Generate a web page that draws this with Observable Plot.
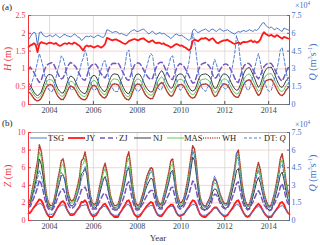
<!DOCTYPE html>
<html><head><meta charset="utf-8">
<script src="https://cdn.jsdelivr.net/npm/d3@7"></script>
<script src="https://cdn.jsdelivr.net/npm/@observablehq/plot@0.6"></script>
<style>
body{margin:0;background:#fff;}
#wrap{position:relative;width:320px;height:245px;overflow:hidden;background:#fff;}
#wrap svg{position:absolute;left:0;}
</style></head><body><div id="wrap"></div>
<script>
// ---------- categories / ticks ----------
const startYear = 2003, nMonths = 144;
const xTickYears = [2004, 2006, 2008, 2010, 2012, 2014];
const hTicks = [0, 0.5, 1, 1.5, 2, 2.5];
const hTickLabels = ["0", "0.5", "1", "1.5", "2", "2.5"];
const zTicks = [0, 2, 4, 6, 8, 10];
const zTickLabels = ["0", "2", "4", "6", "8", "10"];
const qTickLabels = ["0", "1.5", "3", "4.5", "6", "7.5"];
const seriesNames = ["TSG", "JY", "ZJ", "NJ", "MAS", "WH", "DT: Q"];

// ---------- Datong discharge Q (x10^4 m3/s), monthly 2003-2014 ----------
const Q = [
1.2,1.3,1.9,2.4,2.9,3.6,4.3,3.8,3.2,2.4,1.8,1.3,
1.1,1.1,1.5,2.2,2.9,3.4,4.1,3.9,3.3,2.5,1.9,1.3,
1.2,1.4,1.8,2.4,2.8,3.5,3.9,4.6,4.1,2.9,2.0,1.3,
1.2,1.3,1.8,2.6,3.0,3.6,3.7,3.0,2.2,1.7,1.4,1.1,
1.1,1.1,1.6,2.1,2.6,3.4,4.4,4.6,3.5,2.4,1.7,1.2,
1.1,1.2,1.7,2.2,2.8,3.3,3.9,4.3,4.1,3.0,2.2,1.4,
1.2,1.3,1.8,2.3,2.9,3.4,4.0,4.1,3.2,2.2,1.6,1.2,
1.3,1.6,2.3,2.9,3.6,4.8,6.0,5.4,4.1,2.9,1.9,1.4,
1.2,1.1,1.4,1.6,1.9,3.2,3.8,3.4,2.8,2.2,1.8,1.4,
1.3,1.4,2.0,2.6,3.4,4.3,5.8,5.2,3.8,2.7,2.0,1.5,
1.2,1.3,1.8,2.4,3.1,3.8,4.3,3.6,2.7,2.0,1.6,1.2,
1.1,1.2,1.7,2.3,2.9,3.6,4.6,4.8,3.9,2.9,2.1,1.5];

// ---------- panel (a): tidal range H (m) ----------
const H_TSG = [
1.82,1.90,1.98,2.03,2.00,1.66,2.02,2.04,1.95,1.92,1.90,1.93,
1.95,1.90,1.93,1.97,1.92,1.88,1.90,1.95,1.97,1.93,1.92,1.90,
1.93,1.98,1.95,1.90,1.88,1.80,1.83,1.90,1.92,1.90,1.93,1.90,
1.88,1.92,1.95,1.93,1.90,1.88,1.95,2.10,2.08,2.05,2.02,2.04,
2.05,2.02,1.98,2.00,1.97,1.95,1.93,2.00,2.05,2.08,2.10,2.06,
2.05,2.08,2.10,2.12,2.08,2.02,1.98,2.03,2.06,2.00,1.97,2.00,
2.02,1.98,2.00,1.97,1.93,1.90,1.85,1.90,1.95,1.98,1.95,1.93,
1.95,1.90,1.87,1.83,1.80,1.85,2.08,2.12,2.05,2.02,2.05,2.08,
2.10,2.12,2.08,2.05,2.10,2.12,2.08,2.05,2.10,2.13,2.08,2.06,
2.08,2.10,2.06,2.03,2.00,1.98,2.02,2.05,2.03,2.06,2.08,2.05,
2.07,2.10,2.08,2.05,2.10,2.08,2.12,2.20,2.28,2.30,2.22,2.18,
2.15,2.18,2.13,2.10,2.15,2.12,2.08,2.05,2.15,2.12,2.10,2.08];
const H_JY = [
1.61,1.66,1.68,1.72,1.68,1.47,1.70,1.75,1.73,1.72,1.70,1.73,
1.74,1.72,1.70,1.73,1.68,1.65,1.66,1.70,1.72,1.70,1.73,1.71,
1.70,1.74,1.72,1.68,1.65,1.58,1.52,1.62,1.66,1.63,1.65,1.62,
1.60,1.63,1.65,1.62,1.60,1.64,1.70,1.87,1.85,1.82,1.80,1.82,
1.83,1.80,1.78,1.75,1.72,1.70,1.73,1.78,1.80,1.82,1.84,1.82,
1.80,1.83,1.85,1.86,1.82,1.78,1.75,1.78,1.80,1.75,1.72,1.74,
1.73,1.70,1.72,1.68,1.66,1.64,1.60,1.63,1.67,1.70,1.68,1.65,
1.66,1.62,1.60,1.56,1.52,1.58,1.78,1.82,1.80,1.78,1.83,1.86,
1.85,1.87,1.84,1.80,1.84,1.86,1.80,1.74,1.72,1.76,1.78,1.80,
1.80,1.82,1.78,1.76,1.72,1.70,1.72,1.75,1.70,1.74,1.76,1.75,
1.76,1.78,1.80,1.75,1.78,1.74,1.76,1.82,1.95,2.03,1.98,1.95,
1.93,1.96,1.92,1.90,1.95,1.92,1.88,1.85,1.90,1.88,1.86,1.85];
const H_ZJ = [
1.00,1.05,0.98,0.90,0.80,0.70,0.62,0.68,0.85,1.00,1.10,1.14,
1.16,1.18,1.12,1.00,0.88,0.78,0.72,0.75,0.88,1.02,1.12,1.18,
1.15,1.10,1.05,0.95,0.85,0.75,0.70,0.68,0.80,0.98,1.07,1.12,
1.15,1.12,1.05,0.92,0.85,0.78,0.75,0.85,1.00,1.10,1.15,1.16,
1.15,1.17,1.10,0.98,0.88,0.78,0.70,0.68,0.82,0.98,1.10,1.15,
1.17,1.15,1.08,0.98,0.88,0.80,0.74,0.70,0.74,0.90,1.05,1.14,
1.18,1.19,1.12,1.00,0.90,0.80,0.72,0.70,0.85,1.00,1.10,1.15,
1.12,1.08,1.00,0.90,0.80,0.68,0.60,0.62,0.78,0.95,1.08,1.14,
1.16,1.18,1.14,1.08,1.00,0.82,0.74,0.76,0.86,0.98,1.06,1.12,
1.14,1.12,1.06,0.96,0.86,0.74,0.64,0.62,0.78,0.95,1.08,1.14,
1.16,1.14,1.08,0.98,0.88,0.78,0.72,0.80,0.95,1.06,1.12,1.15,
1.16,1.15,1.08,0.98,0.88,0.78,0.70,0.66,0.76,0.90,1.02,1.08];
const H_NJ = [
0.60,0.55,0.45,0.35,0.28,0.25,0.28,0.35,0.50,0.65,0.78,0.84,
0.84,0.82,0.72,0.58,0.45,0.38,0.33,0.32,0.42,0.58,0.72,0.80,
0.78,0.72,0.62,0.50,0.42,0.35,0.32,0.30,0.38,0.55,0.70,0.80,
0.82,0.78,0.68,0.52,0.45,0.38,0.36,0.45,0.62,0.76,0.84,0.86,
0.85,0.84,0.74,0.60,0.48,0.38,0.32,0.30,0.40,0.58,0.74,0.84,
0.86,0.84,0.76,0.64,0.52,0.44,0.38,0.35,0.36,0.50,0.68,0.80,
0.90,0.95,0.88,0.75,0.62,0.52,0.45,0.48,0.62,0.76,0.84,0.86,
0.85,0.80,0.70,0.58,0.48,0.40,0.38,0.40,0.52,0.68,0.80,0.84,
0.85,0.86,0.84,0.80,0.72,0.55,0.45,0.46,0.58,0.72,0.82,0.86,
0.85,0.82,0.74,0.62,0.52,0.44,0.40,0.42,0.55,0.72,0.88,0.98,
1.02,1.04,0.96,0.84,0.72,0.58,0.48,0.55,0.72,0.88,0.98,1.03,
1.04,1.05,0.96,0.84,0.70,0.58,0.50,0.48,0.55,0.66,0.72,0.78];
const H_MAS = [
0.48,0.44,0.36,0.27,0.21,0.18,0.20,0.27,0.40,0.53,0.64,0.70,
0.70,0.68,0.59,0.46,0.35,0.28,0.24,0.23,0.32,0.46,0.59,0.66,
0.64,0.59,0.50,0.39,0.32,0.26,0.23,0.22,0.29,0.44,0.57,0.66,
0.68,0.64,0.55,0.41,0.35,0.29,0.27,0.35,0.50,0.62,0.70,0.72,
0.71,0.70,0.61,0.48,0.37,0.28,0.23,0.22,0.31,0.46,0.61,0.70,
0.72,0.70,0.62,0.51,0.40,0.33,0.28,0.26,0.27,0.39,0.55,0.66,
0.74,0.78,0.72,0.60,0.49,0.40,0.34,0.36,0.49,0.62,0.69,0.71,
0.70,0.66,0.57,0.46,0.37,0.30,0.28,0.30,0.40,0.55,0.66,0.70,
0.71,0.72,0.70,0.66,0.58,0.43,0.34,0.35,0.46,0.58,0.68,0.72,
0.71,0.68,0.60,0.49,0.40,0.33,0.30,0.31,0.43,0.58,0.72,0.80,
0.84,0.86,0.79,0.68,0.57,0.45,0.36,0.42,0.58,0.72,0.81,0.85,
0.86,0.87,0.79,0.68,0.56,0.45,0.38,0.36,0.42,0.52,0.58,0.64];
const H_WH = [
0.35,0.32,0.25,0.17,0.12,0.10,0.12,0.18,0.28,0.40,0.50,0.55,
0.56,0.54,0.46,0.34,0.24,0.18,0.14,0.14,0.22,0.34,0.46,0.52,
0.50,0.46,0.38,0.28,0.21,0.16,0.14,0.13,0.19,0.32,0.44,0.52,
0.54,0.50,0.42,0.30,0.24,0.19,0.18,0.25,0.38,0.48,0.56,0.58,
0.57,0.56,0.48,0.36,0.26,0.18,0.14,0.13,0.20,0.34,0.48,0.56,
0.58,0.56,0.49,0.38,0.28,0.22,0.18,0.16,0.17,0.28,0.42,0.52,
0.58,0.62,0.57,0.46,0.36,0.28,0.23,0.25,0.36,0.48,0.54,0.56,
0.56,0.52,0.44,0.34,0.26,0.20,0.18,0.20,0.29,0.42,0.52,0.56,
0.57,0.58,0.56,0.52,0.45,0.31,0.23,0.24,0.34,0.45,0.54,0.58,
0.57,0.54,0.47,0.37,0.29,0.23,0.20,0.21,0.31,0.45,0.58,0.65,
0.68,0.70,0.64,0.54,0.44,0.33,0.25,0.30,0.45,0.58,0.66,0.69,
0.70,0.71,0.64,0.54,0.43,0.33,0.27,0.25,0.30,0.40,0.46,0.50];

// ---------- panel (b): water level Z (m) ----------
const Z_TSG = [
0.9,1.0,1.2,1.4,1.6,1.8,1.9,1.9,1.6,1.2,0.9,0.7,
0.7,0.7,0.9,1.1,1.4,1.6,1.7,1.8,1.6,1.2,0.9,0.8,
0.8,0.8,1.0,1.2,1.4,1.7,1.7,1.8,1.7,1.2,0.9,0.7,
0.7,0.8,1.0,1.2,1.4,1.6,1.6,1.4,1.1,0.9,0.7,0.6,
0.6,0.6,0.9,1.1,1.3,1.6,1.8,1.8,1.5,1.1,0.8,0.6,
0.6,0.7,0.9,1.1,1.3,1.5,1.6,1.7,1.7,1.3,0.9,0.7,
0.6,0.7,0.9,1.1,1.3,1.5,1.6,1.6,1.3,0.9,0.7,0.6,
0.7,0.8,1.0,1.2,1.4,1.7,1.8,1.8,1.6,1.1,0.8,0.6,
0.6,0.6,0.7,0.9,1.0,1.3,1.4,1.4,1.2,0.9,0.7,0.6,
0.6,0.7,0.9,1.1,1.3,1.6,1.8,1.8,1.5,1.1,0.8,0.6,
0.5,0.6,0.8,1.0,1.3,1.5,1.6,1.5,1.2,0.9,0.7,0.5,
0.5,0.5,0.7,1.0,1.2,1.4,1.6,1.7,1.5,1.2,0.9,0.7];
const Z_JY = [
0.8,0.9,1.2,1.5,1.8,2.1,2.4,2.3,1.9,1.3,0.8,0.5,
0.4,0.4,0.7,1.1,1.5,1.8,2.1,2.2,1.9,1.3,0.9,0.6,
0.6,0.7,1.0,1.3,1.6,2.1,2.1,2.3,2.0,1.3,0.8,0.5,
0.5,0.6,0.9,1.3,1.5,1.8,1.9,1.6,1.2,0.8,0.6,0.4,
0.4,0.4,0.8,1.1,1.5,1.8,2.2,2.3,1.8,1.2,0.7,0.5,
0.4,0.5,0.8,1.1,1.4,1.7,1.9,2.1,2.0,1.4,0.9,0.6,
0.5,0.5,0.8,1.1,1.4,1.6,1.8,1.8,1.4,0.9,0.6,0.5,
0.6,0.7,1.0,1.3,1.6,2.0,2.3,2.2,1.8,1.2,0.7,0.5,
0.4,0.4,0.6,0.8,1.0,1.3,1.5,1.5,1.2,0.9,0.7,0.5,
0.5,0.6,0.9,1.2,1.5,1.9,2.2,2.3,1.8,1.2,0.8,0.5,
0.4,0.5,0.8,1.1,1.4,1.7,1.9,1.7,1.3,0.9,0.6,0.4,
0.4,0.4,0.7,1.0,1.3,1.6,2.0,2.1,1.8,1.3,0.9,0.7];
const Z_ZJ = [
1.5,1.6,2.1,2.6,3.1,3.8,4.6,4.2,3.4,2.4,1.7,1.3,
1.2,1.2,1.5,2.0,2.6,3.1,3.5,3.6,3.1,2.2,1.7,1.4,
1.4,1.6,1.9,2.3,2.8,3.5,3.6,3.8,3.3,2.3,1.7,1.3,
1.3,1.3,1.7,2.2,2.6,3.0,3.1,2.7,2.1,1.6,1.3,1.2,
1.2,1.2,1.6,2.0,2.5,3.2,4.1,4.4,3.3,2.3,1.6,1.2,
1.2,1.3,1.7,2.0,2.5,2.9,3.2,3.4,3.4,2.6,1.8,1.4,
1.3,1.3,1.7,2.1,2.6,3.0,3.7,3.8,2.9,2.0,1.5,1.3,
1.4,1.6,2.0,2.5,3.0,3.8,4.5,4.3,3.3,2.3,1.6,1.3,
1.2,1.1,1.3,1.5,1.8,2.6,3.0,2.9,2.5,2.0,1.6,1.4,
1.3,1.4,1.8,2.2,2.8,3.4,4.2,4.4,3.3,2.3,1.7,1.4,
1.2,1.3,1.7,2.1,2.6,3.1,3.4,3.0,2.4,1.8,1.5,1.2,
1.1,1.2,1.6,2.0,2.5,3.0,3.8,4.2,3.5,2.6,2.0,1.7];
const Z_NJ = [
1.7,1.9,2.7,3.5,4.4,5.5,7.0,6.4,5.0,3.3,2.1,1.5,
1.3,1.3,1.8,2.6,3.5,4.3,5.1,5.2,4.5,3.0,2.2,1.7,
1.7,1.9,2.5,3.1,3.9,5.3,5.5,6.0,5.1,3.3,2.1,1.5,
1.4,1.5,2.1,3.0,3.8,4.6,5.0,4.3,3.1,2.1,1.6,1.3,
1.3,1.3,1.9,2.7,3.5,4.5,5.6,6.0,4.7,3.2,2.0,1.4,
1.3,1.4,2.0,2.6,3.4,4.0,4.4,4.8,4.7,3.5,2.3,1.7,
1.4,1.5,2.1,2.8,3.6,4.4,5.5,5.7,4.3,2.8,1.9,1.5,
1.6,1.9,2.6,3.4,4.4,5.8,7.2,6.8,5.1,3.3,2.0,1.5,
1.3,1.2,1.5,1.8,2.3,3.3,3.6,3.5,2.9,2.3,1.9,1.5,
1.4,1.5,2.1,2.8,3.7,4.6,5.7,5.9,4.6,3.1,2.1,1.6,
1.3,1.4,1.9,2.7,3.5,4.4,4.9,4.3,3.3,2.4,1.8,1.3,
1.2,1.3,1.8,2.5,3.3,4.2,5.2,5.5,4.6,3.4,2.5,2.0];
const Z_MAS = [
1.9,2.2,3.1,4.0,5.1,6.2,7.8,7.2,5.8,3.9,2.5,1.8,
1.5,1.5,2.1,3.0,4.2,5.1,6.2,6.4,5.4,3.6,2.6,2.0,
2.0,2.2,2.9,3.6,4.5,6.2,6.4,7.1,6.0,3.9,2.5,1.8,
1.6,1.8,2.5,3.5,4.4,5.4,5.9,5.1,3.7,2.5,1.9,1.5,
1.5,1.6,2.2,3.1,4.1,5.3,6.6,7.1,5.6,3.8,2.4,1.7,
1.5,1.7,2.3,3.0,3.9,4.6,5.1,5.5,5.4,4.1,2.7,2.0,
1.6,1.8,2.5,3.3,4.2,5.1,6.2,6.4,5.0,3.3,2.3,1.8,
1.9,2.2,3.0,4.0,5.2,6.6,7.8,7.4,5.8,3.9,2.4,1.8,
1.5,1.4,1.8,2.2,2.7,3.9,4.3,4.1,3.4,2.7,2.2,1.8,
1.7,1.8,2.5,3.3,4.4,5.5,6.9,7.3,5.6,3.8,2.6,1.9,
1.5,1.7,2.3,3.2,4.2,5.3,6.0,5.3,4.0,2.9,2.1,1.6,
1.4,1.6,2.2,3.0,4.0,5.1,6.4,6.9,5.7,4.2,3.1,2.5];
const Z_WH = [
2.1,2.4,3.4,4.4,5.6,6.8,8.6,7.9,6.4,4.3,2.8,2.0,
1.7,1.7,2.3,3.3,4.6,5.6,6.8,7.0,5.9,4.0,2.9,2.3,
2.2,2.5,3.2,4.0,5.0,6.8,7.0,7.8,6.6,4.3,2.8,2.0,
1.8,2.0,2.8,3.9,4.8,5.9,6.5,5.6,4.1,2.8,2.1,1.7,
1.7,1.8,2.5,3.4,4.5,5.8,7.2,7.8,6.2,4.2,2.7,1.9,
1.7,1.9,2.6,3.3,4.3,5.1,5.6,6.0,5.9,4.5,3.0,2.2,
1.8,2.0,2.8,3.6,4.6,5.6,6.8,7.0,5.5,3.6,2.6,2.0,
2.1,2.5,3.3,4.4,5.7,7.2,8.5,8.1,6.4,4.3,2.7,2.0,
1.7,1.6,2.0,2.4,3.0,4.3,4.7,4.5,3.8,3.0,2.5,2.0,
1.9,2.0,2.8,3.6,4.8,6.0,7.6,8.0,6.2,4.2,2.9,2.1,
1.7,1.9,2.6,3.5,4.6,5.8,6.6,5.8,4.4,3.2,2.4,1.8,
1.6,1.8,2.5,3.3,4.4,5.6,7.0,7.6,6.3,4.6,3.4,2.8];

// ---------- build ----------
const dates = d3.range(nMonths).map(i => new Date(Date.UTC(startYear + Math.floor(i / 12), i % 12, 15)));
const xDomain = [dates[0], dates[nMonths - 1]];
const tickDates = xTickYears.map(y => new Date(Date.UTC(y, 0, 1)));
const RED = "#f0363c", BLUE = "#3f6fc6";
const FONT = "'Liberation Serif','Times New Roman',serif";

const style = {
  "TSG":   {stroke: "#4a78c8", strokeWidth: 1},
  "JY":    {stroke: "#ff1a1a", strokeWidth: 1.8},
  "ZJ":    {stroke: "#7257be", strokeWidth: 1.5, strokeDasharray: "5,3"},
  "NJ":    {stroke: "#3a3a3a", strokeWidth: 1},
  "MAS":   {stroke: "#62c955", strokeWidth: 1},
  "WH":    {stroke: "#b23a2a", strokeWidth: 1.5, strokeDasharray: "1,1.3"},
  "DT: Q": {stroke: "#4f80d6", strokeWidth: 1, strokeDasharray: "3,2"}
};
const rows = arr => arr.map((v, i) => ({date: dates[i], v}));
const line = (arr, name, f = 1) => Plot.line(arr.map((v, i) => ({date: dates[i], v: v * f})), {x: "date", y: "v", ...style[name], strokeLinejoin: "round"});

function panel({ticks, tickLabels, yMax, series, qFactor, height, marginTop, marginBottom}) {
  const d0 = xDomain[0], d1 = xDomain[1];
  return Plot.plot({
    width: 320, height, marginLeft: 28, marginRight: 31, marginTop, marginBottom,
    x: {type: "utc", domain: xDomain},
    y: {domain: [0, yMax]},
    style: {fontFamily: FONT, fontSize: "8px", background: "transparent", overflow: "visible"},
    marks: [
      Plot.ruleY(ticks.slice(1, -1), {stroke: "#f7c6c6", strokeWidth: 0.8}),
      Plot.ruleX(tickDates, {stroke: "#d6d6d6", strokeWidth: 0.8}),
      line(series.WH, "WH"),
      line(series.MAS, "MAS"),
      line(series.NJ, "NJ"),
      line(series.ZJ, "ZJ"),
      line(Q, "DT: Q", qFactor),
      line(series.JY, "JY"),
      line(series.TSG, "TSG"),
      Plot.ruleY([yMax], {stroke: "#9a9a9a", strokeWidth: 0.8}),
      Plot.ruleY([0], {stroke: "#555", strokeWidth: 0.8}),
      Plot.ruleX([d0], {stroke: RED, strokeWidth: 1}),
      Plot.ruleX([d1], {stroke: BLUE, strokeWidth: 1}),
      Plot.axisX(tickDates, {tickFormat: d3.utcFormat("%Y"), tickSize: -3, tickPadding: 6, stroke: "#555", fill: "#444", label: null}),
      Plot.axisY(ticks, {anchor: "left", tickFormat: d => tickLabels[ticks.indexOf(d)], tickSize: -3, tickPadding: 6, stroke: RED, fill: RED, label: null}),
      Plot.axisY(ticks, {anchor: "right", tickFormat: d => qTickLabels[ticks.indexOf(d)], tickSize: -3, tickPadding: 5, stroke: BLUE, fill: BLUE, label: null})
    ]
  });
}

const wrap = document.getElementById("wrap");
const svgA = panel({ticks: hTicks, tickLabels: hTickLabels, yMax: 2.5, qFactor: 2.5 / 7.5, height: 118, marginTop: 15, marginBottom: 14,
  series: {TSG: H_TSG, JY: H_JY, ZJ: H_ZJ, NJ: H_NJ, MAS: H_MAS, WH: H_WH}});
svgA.style.top = "0px";
wrap.appendChild(svgA);
const svgB = panel({ticks: zTicks, tickLabels: zTickLabels, yMax: 10, qFactor: 10 / 7.5, height: 127, marginTop: 14, marginBottom: 25,
  series: {TSG: Z_TSG, JY: Z_JY, ZJ: Z_ZJ, NJ: Z_NJ, MAS: Z_MAS, WH: Z_WH}});
svgB.style.top = "118px";
wrap.appendChild(svgB);

// ---------- text annotations ----------
function txt(svg, x, y, parts, {size = 10, fill = "#222", rotate = 0, anchor = "start"} = {}) {
  const t = d3.select(svg).append("text")
    .attr("transform", `translate(${x},${y}) rotate(${rotate})`)
    .attr("text-anchor", anchor).attr("font-family", FONT).attr("font-size", size).attr("fill", fill);
  parts.forEach(p => {
    const s = t.append("tspan").text(p.t);
    if (p.i) s.attr("font-style", "italic");
    if (p.sup) s.attr("font-size", size * 0.65).attr("dy", -size * 0.4);
    if (p.down) s.attr("dy", size * 0.4);
  });
  return t;
}
const qTitle = [{t: "Q", i: 1}, {t: " (m"}, {t: "3", sup: 1}, {t: "s", down: 1}, {t: "-1", sup: 1}, {t: ")", down: 1}];
// panel a
txt(svgA, 2, 10, [{t: "(a)"}], {size: 9});
txt(svgA, 11, 59, [{t: "H", i: 1}, {t: " (m)"}], {size: 10, fill: RED, rotate: -90, anchor: "middle"});
txt(svgA, 316, 62, qTitle, {size: 10, fill: BLUE, rotate: -90, anchor: "middle"});
txt(svgA, 295, 8, [{t: "×10"}, {t: "4", sup: 1}], {size: 8, fill: BLUE});
// panel b
txt(svgB, 2, 8, [{t: "(b)"}], {size: 9});
txt(svgB, 11, 58, [{t: "Z", i: 1}, {t: " (m)"}], {size: 10, fill: RED, rotate: -90, anchor: "middle"});
txt(svgB, 316, 55, qTitle, {size: 10, fill: BLUE, rotate: -90, anchor: "middle"});
txt(svgB, 295, 9, [{t: "×10"}, {t: "4", sup: 1}], {size: 8, fill: BLUE});
txt(svgB, 158, 123, [{t: "Year"}], {size: 9, fill: "#333", anchor: "middle"});

// legend (panel b, inside top)
const legendX = [[30, 48], [68, 86], [100, 119], [134, 153], [167, 184], [203, 222], [244, 264]];
const lg = d3.select(svgB).append("g");
seriesNames.forEach((name, k) => {
  const [lx, tx] = legendX[k], s = style[name], ly = 20;
  lg.append("line").attr("x1", lx).attr("x2", lx + 17).attr("y1", ly).attr("y2", ly)
    .attr("stroke", s.stroke).attr("stroke-width", s.strokeWidth).attr("stroke-dasharray", s.strokeDasharray || null);
  const parts = name === "DT: Q" ? [{t: "DT: "}, {t: "Q", i: 1}] : [{t: name}];
  txt(svgB, tx, ly + 3, parts, {size: 8.5, fill: "#222"});
});
</script></body></html>
